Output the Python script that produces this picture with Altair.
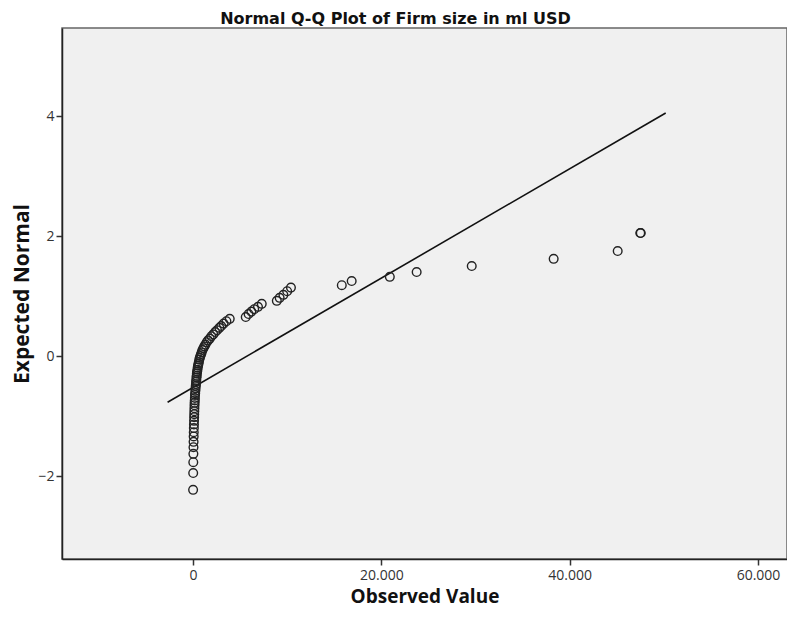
import altair as alt
import pandas as pd

observed = [
    10, 20, 30, 40, 50, 60, 70, 80, 90, 100,
    110, 120, 130, 140, 150, 160, 170, 185, 200, 215,
    230, 250, 270, 290, 310, 330, 350, 370, 390, 410,
    440, 470, 500, 540, 580, 620, 670, 720, 780,
    850, 920, 1000, 1100, 1200, 1320, 1450, 1600, 1780,
    1950, 2150, 2350, 2550, 2800, 3000, 3250, 3550, 3900,
    5600, 5900, 6200, 6500, 6900, 7300,
    8900, 9200, 9600, 10000, 10400,
    15800, 16850, 20900, 23750, 29600, 38300, 45100, 47500, 47550,
]
expected = [
    -2.23, -1.95, -1.77, -1.63, -1.52, -1.43, -1.34, -1.27, -1.20, -1.14,
    -1.08, -1.02, -0.97, -0.92, -0.87, -0.82, -0.78, -0.74, -0.70, -0.65,
    -0.62, -0.58, -0.54, -0.50, -0.47, -0.43, -0.40, -0.36, -0.33, -0.29,
    -0.26, -0.23, -0.19, -0.16, -0.13, -0.10, -0.06, -0.03, 0.00,
    0.03, 0.06, 0.10, 0.13, 0.16, 0.19, 0.23, 0.26, 0.29,
    0.33, 0.36, 0.40, 0.43, 0.47, 0.50, 0.54, 0.58, 0.62,
    0.65, 0.70, 0.74, 0.78, 0.82, 0.87,
    0.92, 0.97, 1.02, 1.08, 1.14,
    1.18, 1.25, 1.32, 1.40, 1.50, 1.62, 1.75, 2.05, 2.05,
]

# Reference line end points
line_x = [-2700, 50200]
line_y = [-0.77, 4.05]

x_ticks = [0, 20000, 40000, 60000]
y_ticks = [-2, 0, 2, 4]

pts = pd.DataFrame({"obs": observed, "exp": expected})
ln = pd.DataFrame({"obs": line_x, "exp": line_y})

xscale = alt.Scale(domain=[-13912, 63080], nice=False, zero=False)
yscale = alt.Scale(domain=[-3.383, 5.467], nice=False, zero=False)

xaxis = alt.Axis(
    title="Observed Value", values=x_ticks, grid=False,
    labelExpr="replace(format(datum.value, ',d'), ',', '.')",
    tickSize=6, tickColor="#333", tickWidth=1.5, domainColor="#222", domainWidth=1.5,
    labelFont="Open Sans", labelFontSize=14, labelColor="#333", labelPadding=3,
    titleFont="Open Sans", titleFontSize=19, titleFontWeight="bold", titleColor="#111",
    titlePadding=5,
)
yaxis = alt.Axis(
    title="Expected Normal", values=y_ticks, grid=False, format="d",
    tickSize=6, tickColor="#333", tickWidth=1.5, domainColor="#222", domainWidth=1.5,
    labelFont="Open Sans", labelFontSize=14, labelColor="#333", labelPadding=2,
    titleFont="Open Sans", titleFontSize=21, titleFontWeight="bold", titleColor="#111",
    titlePadding=5,
)

points = alt.Chart(pts).mark_point(
    shape="circle", filled=False, size=75, stroke="#222", strokeWidth=1.4, opacity=1
).encode(
    x=alt.X("obs:Q", scale=xscale, axis=xaxis),
    y=alt.Y("exp:Q", scale=yscale, axis=yaxis),
)

line = alt.Chart(ln).mark_line(color="#111", strokeWidth=1.6).encode(
    x=alt.X("obs:Q", scale=xscale),
    y=alt.Y("exp:Q", scale=yscale),
)

chart = alt.layer(line, points).properties(
    width=725, height=531,
    title=alt.TitleParams(
        "Normal Q-Q Plot of Firm size in ml USD",
        font="DejaVu Sans", fontSize=16, fontWeight="bold", color="#111",
        dx=-29, offset=1,
    ),
    autosize=alt.AutoSizeParams(type="none"),
    padding={"left": 54, "top": 20, "right": 0, "bottom": 48},
).configure_view(
    fill="#f0f0f0", stroke="#666", strokeWidth=1.5
)

chart.save("out.html", embed_options={"renderer": "svg", "actions": False})
